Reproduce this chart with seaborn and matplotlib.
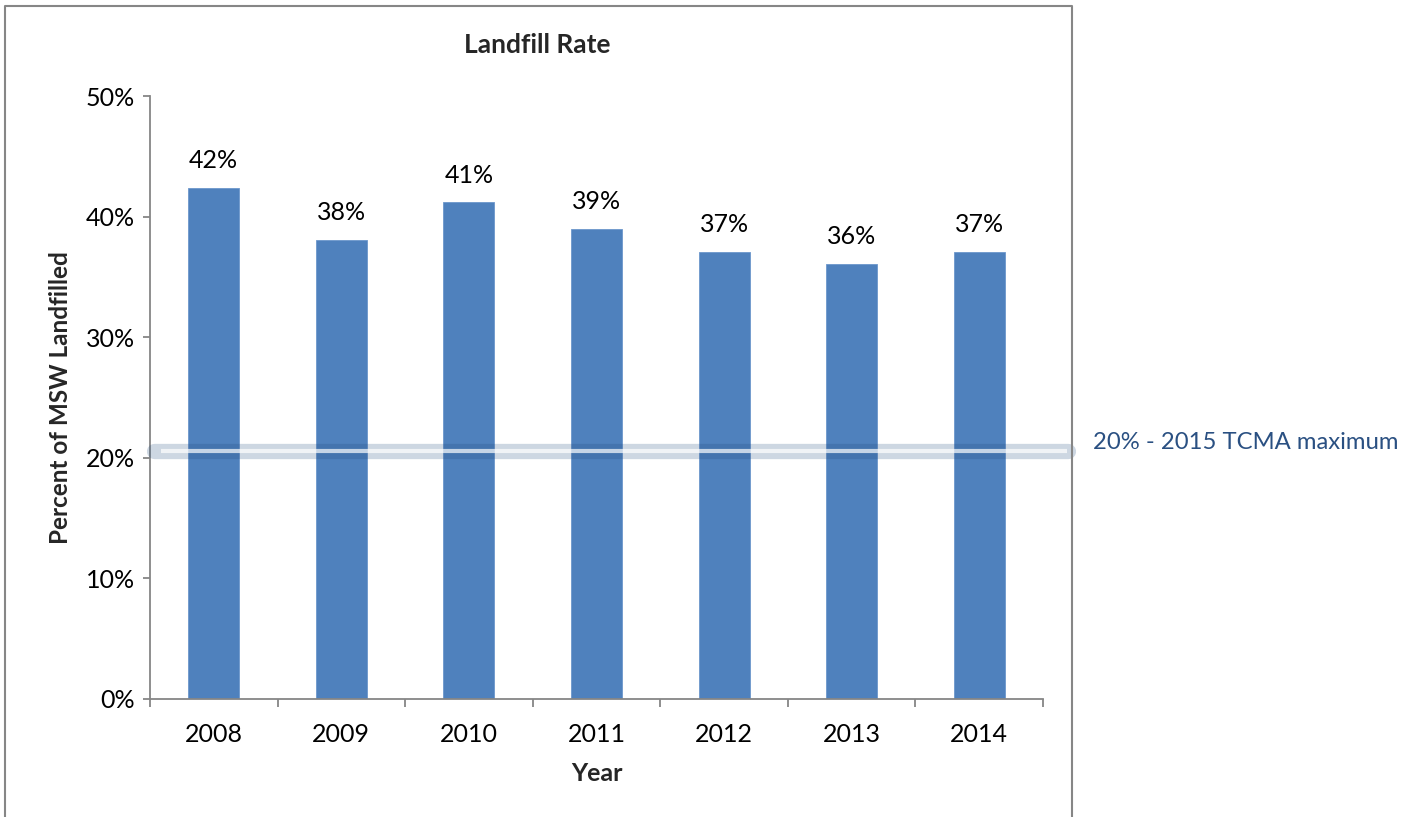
import matplotlib
matplotlib.use("Agg")
import matplotlib.pyplot as plt
import seaborn as sns
import pandas as pd
from matplotlib.lines import Line2D
from matplotlib.ticker import FuncFormatter, FixedLocator

years = ["2008", "2009", "2010", "2011", "2012", "2013", "2014"]
landfill_rate = [42.4, 38.1, 41.2, 39.0, 37.1, 36.1, 37.1]
value_labels = ["42%", "38%", "41%", "39%", "37%", "36%", "37%"]
target_value = 20.6
target_label = "20% - 2015 TCMA maximum"
y_ticks = [0, 10, 20, 30, 40, 50]

sns.set_theme(style="white")
plt.rcParams["font.family"] = ["Lato", "DejaVu Sans"]

df = pd.DataFrame({"Year": years, "Rate": landfill_rate})

fig = plt.figure(figsize=(14.16, 8.17), dpi=100)
ax = fig.add_axes([150 / 1416, (817 - 699) / 817, (1043 - 150) / 1416, (699 - 96) / 817])

sns.barplot(data=df, x="Year", y="Rate", color="#4F81BD", saturation=1, width=0.4,
            ax=ax, edgecolor="#6C97CC", linewidth=0.6, zorder=2)

ax.set_xlim(-0.5, len(years) - 0.5)
ax.set_ylim(0, 50)
ax.yaxis.set_major_locator(FixedLocator(y_ticks))
ax.yaxis.set_major_formatter(FuncFormatter(lambda v, p: f"{int(v)}%"))

gray = "#868686"
for s in ["top", "right"]:
    ax.spines[s].set_visible(False)
for s in ["left", "bottom"]:
    ax.spines[s].set_color(gray)
    ax.spines[s].set_linewidth(1.3)

ax.tick_params(axis="y", which="major", direction="out", length=5, width=1.3, color=gray,
               labelsize=18, labelcolor="black", pad=6, left=True)
ax.set_xticks(range(len(years)))
ax.set_xticklabels(years)
ax.tick_params(axis="x", which="major", length=0, labelsize=18, labelcolor="black", pad=17)
ax.set_xticks([i - 0.5 for i in range(len(years) + 1)], minor=True)
ax.tick_params(axis="x", which="minor", direction="out", length=6, width=1.3, color=gray, bottom=True)

ax.set_xlabel("Year", fontsize=18, fontweight="bold", labelpad=12)
ax.set_ylabel("Percent of MSW Landfilled", fontsize=17.5, fontweight="bold", labelpad=10)
ax.set_title("Landfill Rate", fontsize=19, fontweight="bold", pad=31, x=0.434)

for i, (v, lab) in enumerate(zip(landfill_rate, value_labels)):
    ax.annotate(lab, (i, v), xytext=(0, 11), textcoords="offset points",
                ha="center", va="bottom", fontsize=18, color="black")

# target band extending beyond the plot to the chart border
x_right = (1072 - 150) / (1043 - 150)
tr = ax.get_yaxis_transform()
ax.plot([0.004, x_right - 0.004], [target_value, target_value], transform=tr, color="#1F497D",
        alpha=0.22, linewidth=11, solid_capstyle="round", clip_on=False, zorder=3)
ax.plot([0.012, x_right - 0.006], [target_value, target_value], transform=tr, color="white",
        alpha=0.7, linewidth=3, solid_capstyle="butt", clip_on=False, zorder=4)
ax.text((1093 - 150) / (1043 - 150), target_value + 0.7, target_label, transform=tr,
        fontsize=17.2, color="#2A5082", ha="left", va="center", clip_on=False)

# chart area border (left, top, right)
fx = lambda px: px / 1416
fy = lambda py: 1 - py / 817
fig.add_artist(Line2D([fx(5), fx(5), fx(1072), fx(1072)], [0, fy(6), fy(6), 0],
                      color=gray, linewidth=1.5, transform=fig.transFigure))

fig.savefig("out.png", dpi=100)
